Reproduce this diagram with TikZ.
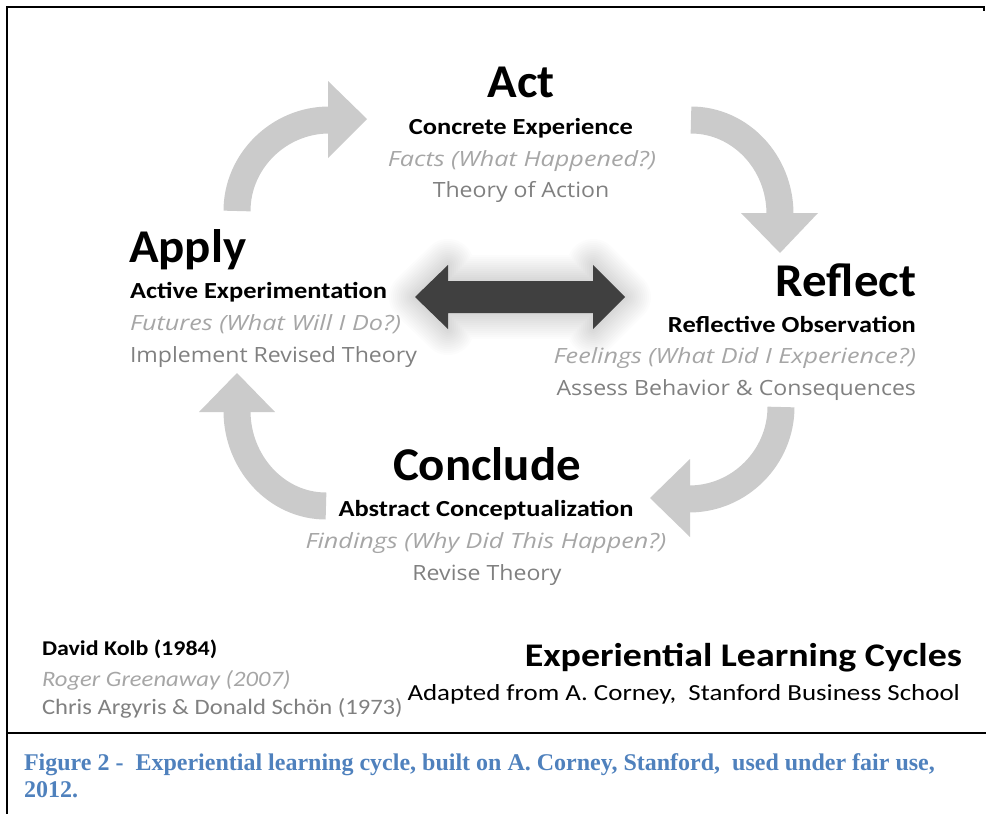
\documentclass[tikz,border=0pt]{standalone}
\usepackage{fontspec}
\setmainfont{Carlito}
\newfontfamily\bigfont[FakeStretch=1.04]{Carlito}
\newfontfamily\subfont[FakeStretch=1.15]{Carlito}
\newfontfamily\titlefont[FakeStretch=1.15]{Carlito}
\newfontfamily\adaptfont[FakeStretch=1.17]{Carlito}
\newfontfamily\kolbfont[FakeStretch=1.14]{Carlito}
\newfontfamily\creditfont[FakeStretch=1.12]{Carlito}
\newfontfamily\grayitfont[FakeStretch=1.2]{Open Sans}
\newfontfamily\grayrgfont[FakeStretch=1.1]{Open Sans}
\newfontfamily\capfont{Liberation Serif}
\definecolor{arrowgray}{RGB}{203,203,203}
\definecolor{darkarrow}{RGB}{64,64,64}
\definecolor{itgray}{RGB}{166,166,166}
\definecolor{rggray}{RGB}{128,128,128}
\definecolor{capblue}{RGB}{79,129,189}
\tikzset{
  every node/.style={inner sep=0pt, outer sep=0pt},
  big/.style={font=\bigfont\fontsize{47}{50}\selectfont\bfseries},
  sub/.style={font=\subfont\fontsize{23}{26}\selectfont\bfseries},
  itg/.style={font=\grayitfont\fontsize{21}{24}\selectfont\itshape, text=itgray},
  rgg/.style={font=\grayrgfont\fontsize{21}{24}\selectfont, text=rggray},
  captext/.style={font=\capfont\fontsize{24}{27}\selectfont\bfseries, text=capblue, anchor=base west},
  shaft/.style={draw=arrowgray, line width=27pt, line cap=butt},
  head/.style={fill=arrowgray},
  frame/.style={line width=2pt, black},
}
\begin{document}
\begin{tikzpicture}[x=1pt,y=-1pt]
\useasboundingbox (0,0) rectangle (986,814);
% frame
\draw[frame] (7,814) -- (7,7) -- (984,7) -- (984,11);
\draw[frame, line width=2.5pt] (7,733) -- (986,733);

% curved arrows
\coordinate (tlA) at (237,211);
\coordinate (tlB) at (329,120);
\draw[shaft] (tlA) .. controls (237,161) and (279,120) .. (tlB);
\fill[head] (328,81) -- (367,119) -- (328,158) -- cycle;

\coordinate (trA) at (691,120);
\coordinate (trB) at (780,214);
\draw[shaft] (trA) .. controls (740,120) and (780,162) .. (trB);
\fill[head] (741,213) -- (818,213) -- (780,253) -- cycle;

\coordinate (brA) at (781,407);
\coordinate (brB) at (689,499);
\draw[shaft] (brA) .. controls (781,457) and (740,499) .. (brB);
\fill[head] (690,459) -- (690,537) -- (650,498) -- cycle;

\coordinate (blA) at (326,506);
\coordinate (blB) at (237,411);
\draw[shaft] (blA) .. controls (276,506) and (237,462) .. (blB);
\fill[head] (199,412) -- (275,412) -- (237,373) -- cycle;

% double arrow with soft glow
\def\dblarrow{(415,297) -- (448,265) -- (448,281) -- (593,281) -- (593,265) -- (625,297) -- (593,329) -- (593,313) -- (448,313) -- (448,329) -- cycle}
\foreach \w in {52,48,...,4}{
  \draw[black, opacity=0.012, line width=\w pt, line join=round] \dblarrow;
}
\fill[darkarrow] \dblarrow;

% Act
\node[big, anchor=base] (act) at (521,97) {Act};
\node[sub, anchor=base] (actsub) at (521,134) {Concrete Experience};
\node[itg, anchor=base] (actit) at (522,166) {Facts (What Happened?)};
\node[rgg, anchor=base] (actrg) at (521,197) {Theory of Action};

% Apply
\node[big, anchor=base west] (apply) at (129,262) {Apply};
\node[sub, anchor=base west] (applysub) at (130,298) {Active Experimentation};
\node[itg, anchor=base west] (applyit) at (130,330) {Futures (What Will I Do?)};
\node[rgg, anchor=base west] (applyrg) at (130,362) {Implement Revised Theory};

% Reflect
\node[big, anchor=base east] (refl) at (916,296) {Reflect};
\node[sub, anchor=base east] (reflsub) at (916,332) {Reflective Observation};
\node[itg, anchor=base east] (reflit) at (916,363) {Feelings (What Did I Experience?)};
\node[rgg, anchor=base east] (reflrg) at (916,395) {Assess Behavior \& Consequences};

% Conclude
\node[big, anchor=base] (concl) at (487,480) {Conclude};
\node[sub, anchor=base] (conclsub) at (486,516) {Abstract Conceptualization};
\node[itg, anchor=base] (conclit) at (486,548) {Findings (Why Did This Happen?)};
\node[rgg, anchor=base] (conclrg) at (487,580) {Revise Theory};

% bottom left credits
\node[font=\kolbfont\fontsize{21}{24}\selectfont\bfseries, anchor=base west] (kolb) at (42,655) {David Kolb (1984)};
\node[font=\creditfont\fontsize{22}{26}\selectfont\itshape, text=itgray, anchor=base west] (green) at (42,686) {Roger Greenaway (2007)};
\node[font=\creditfont\fontsize{22}{26}\selectfont, text=rggray, anchor=base west] (argy) at (42,714) {Chris Argyris \& Donald Schön (1973)};

% title
\node[font=\titlefont\fontsize{33}{36}\selectfont\bfseries, anchor=base east] (title) at (962,666) {Experiential Learning Cycles};
\node[font=\adaptfont\fontsize{23}{26}\selectfont, anchor=base east] (adapt) at (960,700) {Adapted from A. Corney,\ \ Stanford Business School};

% caption
\node[captext] (cap1) at (24,770) {Figure 2 -\ \ Experiential learning cycle, built on A. Corney, Stanford,\ \ used under fair use,};
\node[captext] (cap2) at (24,797) {2012.};
\end{tikzpicture}
\end{document}
